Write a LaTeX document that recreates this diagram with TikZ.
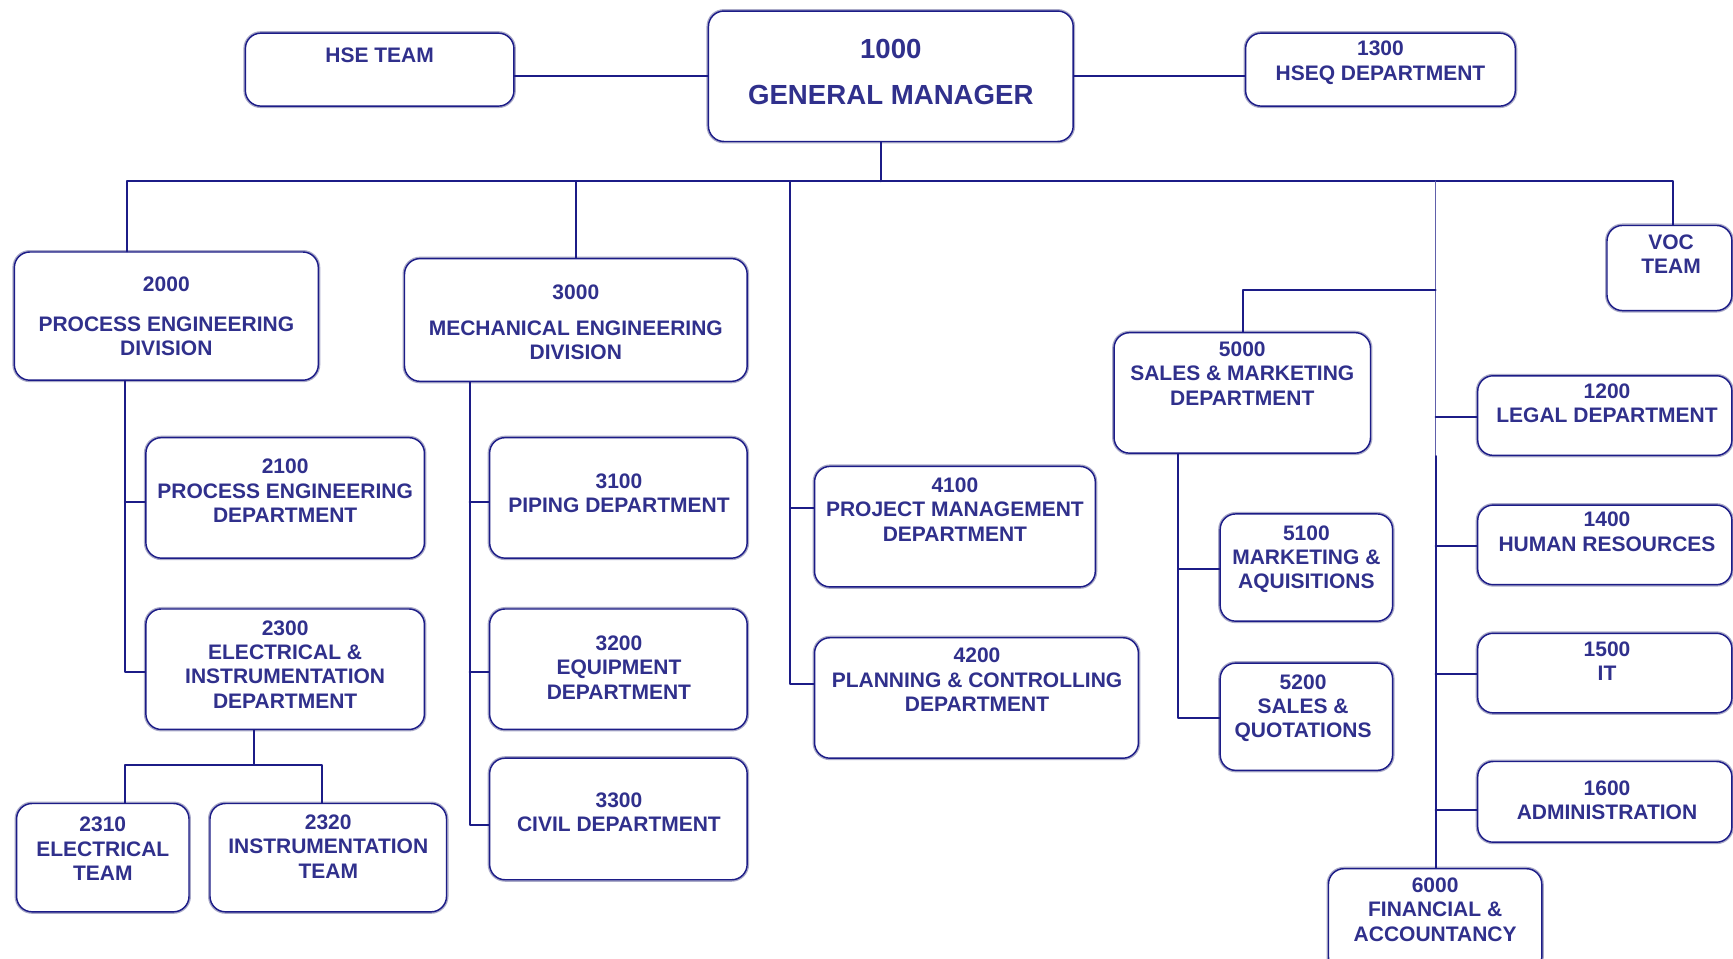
\documentclass[tikz,border=0pt]{standalone}
\usepackage{fontspec}
\setmainfont{Liberation Sans}
\definecolor{orgnavy}{RGB}{28,28,135}
\definecolor{orgink}{RGB}{48,48,140}
\definecolor{orgshade}{RGB}{170,170,200}
\begin{document}
\begin{tikzpicture}[line cap=round,line join=round,x=1pt,y=-1pt,
	orgbox/.style={draw=orgnavy,line width=1.3pt,rounded corners=14pt,fill=white,inner sep=0pt,preaction={draw=orgshade,line width=3.6pt}},
	orgtxt/.style={anchor=north,inner sep=0pt,align=center,text=orgink,font=\fontsize{19}{22}\selectfont\bfseries},
	link/.style={draw=orgnavy,line width=1.8pt}]
		\path [use as bounding box,clip] (0,0) rectangle (1568,867);
		% boxes
		\node [orgbox,minimum width=330,minimum height=118] (b1000) at (806,69) {};
		\node [orgbox,minimum width=243,minimum height=66] (bhse) at (343.5,63) {};
		\node [orgbox,minimum width=244,minimum height=66] (b1300) at (1249,63) {};
		\node [orgbox,minimum width=275,minimum height=116] (b2000) at (150.5,286) {};
		\node [orgbox,minimum width=310,minimum height=111] (b3000) at (521,289.5) {};
		\node [orgbox,minimum width=113,minimum height=77] (bvoc) at (1510.5,242.5) {};
		\node [orgbox,minimum width=232,minimum height=109] (b5000) at (1124,355.5) {};
		\node [orgbox,minimum width=230,minimum height=72] (b1200) at (1452,376) {};
		\node [orgbox,minimum width=230,minimum height=72] (b1400) at (1452,493) {};
		\node [orgbox,minimum width=230,minimum height=72] (b1500) at (1452,609) {};
		\node [orgbox,minimum width=230,minimum height=73] (b1600) at (1452,725.5) {};
		\node [orgbox,minimum width=252,minimum height=109] (b2100) at (258,450.5) {};
		\node [orgbox,minimum width=252,minimum height=109] (b2300) at (258,605.5) {};
		\node [orgbox,minimum width=233,minimum height=109] (b3100) at (559.5,450.5) {};
		\node [orgbox,minimum width=233,minimum height=109] (b3200) at (559.5,605.5) {};
		\node [orgbox,minimum width=233,minimum height=110] (b3300) at (559.5,741) {};
		\node [orgbox,minimum width=254,minimum height=109] (b4100) at (864,476.5) {};
		\node [orgbox,minimum width=293,minimum height=109] (b4200) at (883.5,631.5) {};
		\node [orgbox,minimum width=156,minimum height=97] (b5100) at (1182,513.5) {};
		\node [orgbox,minimum width=156,minimum height=97] (b5200) at (1182,648.5) {};
		\node [orgbox,minimum width=156,minimum height=98] (b2310) at (93,776) {};
		\node [orgbox,minimum width=214,minimum height=98] (b2320) at (297,776) {};
		\node [orgbox,minimum width=193,minimum height=94] (b6000) at (1298.5,833) {};
		% texts
		\node [orgtxt,font=\fontsize{25}{42}\selectfont\bfseries] (t1000) at (806,34.9) {1000\\GENERAL MANAGER};
		\node [orgtxt] (thse) at (343.5,43.2) {HSE TEAM};
		\node [orgtxt] (t1300) at (1249,37.2) {1300\\HSEQ DEPARTMENT};
		\node [orgtxt] (t2000) at (150.5,250.2) {2000\\[14pt]PROCESS ENGINEERING\\DIVISION};
		\node [orgtxt] (t3000) at (521,257.2) {3000\\[11pt]MECHANICAL ENGINEERING\\DIVISION};
		\node [orgtxt] (tvoc) at (1512,212.2) {VOC\\TEAM};
		\node [orgtxt] (t5000) at (1124,309.2) {5000\\SALES \& MARKETING\\DEPARTMENT};
		\node [orgtxt] (t1200) at (1454,347.2) {1200\\LEGAL DEPARTMENT};
		\node [orgtxt] (t2100) at (258,415.2) {2100\\PROCESS ENGINEERING\\DEPARTMENT};
		\node [orgtxt] (t3100) at (560,428.2) {3100\\PIPING DEPARTMENT};
		\node [orgtxt] (t4100) at (864,432.2) {4100\\PROJECT MANAGEMENT\\DEPARTMENT};
		\node [orgtxt] (t1400) at (1454,463.2) {1400\\HUMAN RESOURCES};
		\node [orgtxt] (t5100) at (1182,475.2) {5100\\MARKETING \&\\AQUISITIONS};
		\node [orgtxt] (t2300) at (258,561.2) {2300\\ELECTRICAL \&\\INSTRUMENTATION\\DEPARTMENT};
		\node [orgtxt] (t3200) at (560,575.2) {3200\\EQUIPMENT\\DEPARTMENT};
		\node [orgtxt] (t4200) at (884,586.2) {4200\\PLANNING \& CONTROLLING\\DEPARTMENT};
		\node [orgtxt] (t1500) at (1454,580.2) {1500\\IT};
		\node [orgtxt] (t5200) at (1179,610.2) {5200\\SALES \&\\QUOTATIONS};
		\node [orgtxt] (t3300) at (560,717.2) {3300\\CIVIL DEPARTMENT};
		\node [orgtxt] (t1600) at (1454,706.2) {1600\\ADMINISTRATION};
		\node [orgtxt] (t2310) at (93,739.2) {2310\\ELECTRICAL\\TEAM};
		\node [orgtxt] (t2320) at (297,737.2) {2320\\INSTRUMENTATION\\TEAM};
		\node [orgtxt] (t6000) at (1298.5,794.2) {6000\\FINANCIAL \&\\ACCOUNTANCY};
		% junctions
		\coordinate (bus) at (797,164);
		\coordinate (busw) at (115,164);
		\coordinate (buse) at (1514,164);
		\coordinate (pe1) at (113,454);
		\coordinate (pe2) at (113,608);
		\coordinate (ei) at (230,692);
		\coordinate (et) at (113,692);
		\coordinate (it) at (291,692);
		\coordinate (me1) at (425,454);
		\coordinate (me2) at (425,608);
		\coordinate (me3) at (425,746);
		\coordinate (pm1) at (715,460);
		\coordinate (pm2) at (715,619);
		\coordinate (sm) at (1125,262);
		\coordinate (sm1) at (1066,515);
		\coordinate (sm2) at (1066,650);
		\coordinate (sp) at (1299,262);
		\coordinate (sp1) at (1299,377);
		\coordinate (sp2) at (1299,494);
		\coordinate (sp3) at (1299,610);
		\coordinate (sp4) at (1299,733);
		% connectors
		\draw [link] (b1000.west) -- (b1000.west -| bhse.east);
		\draw [link] (b1000.east) -- (b1000.east -| b1300.west);
		\draw [link] (b1000.south -| bus) -- (bus);
		\draw [link] (b2000.north -| busw) -- (busw) -- (buse) -- (bvoc.north -| buse);
		\draw [link] (b3000.north) -- (b3000.north |- bus);
		\draw [link] (b2000.south -| pe1) -- (pe2) -- (pe2 -| b2300.west);
		\draw [link] (pe1) -- (pe1 -| b2100.west);
		\draw [link] (b2300.south -| ei) -- (ei);
		\draw [link] (b2310.north -| et) -- (et) -- (it) -- (b2320.north -| it);
		\draw [link] (b3000.south -| me1) -- (me3) -- (me3 -| b3300.west);
		\draw [link] (me1) -- (me1 -| b3100.west);
		\draw [link] (me2) -- (me2 -| b3200.west);
		\draw [link] (pm1 |- bus) -- (pm2) -- (pm2 -| b4200.west);
		\draw [link] (pm1) -- (pm1 -| b4100.west);
		\draw [link] (b5000.south -| sm1) -- (sm2) -- (sm2 -| b5200.west);
		\draw [link] (sm1) -- (sm1 -| b5100.west);
		\draw [link,draw=orgnavy!70,line width=1.4pt] (sp |- bus) -- (sp |- b1200.south);
		\draw [link] (sp |- b1200.south) -- (b6000.north -| sp);
		\draw [link] (sp) -- (sm) -- (b5000.north -| sm);
		\draw [link] (sp1) -- (sp1 -| b1200.west);
		\draw [link] (sp2) -- (sp2 -| b1400.west);
		\draw [link] (sp3) -- (sp3 -| b1500.west);
		\draw [link] (sp4) -- (sp4 -| b1600.west);
\end{tikzpicture}
\end{document}
